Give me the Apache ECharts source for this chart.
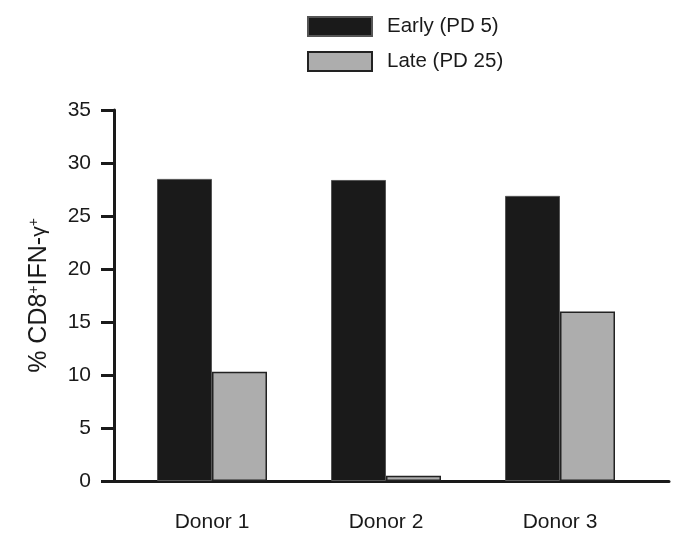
<!DOCTYPE html>
<html>
<head>
<meta charset="utf-8">
<script src="https://cdn.jsdelivr.net/npm/echarts@6/dist/echarts.min.js"></script>
<style>html,body{margin:0;padding:0;background:#fff}#c{width:685px;height:548px}</style>
</head>
<body>
<div id="c"></div>
<script>
var categories = ['Donor 1', 'Donor 2', 'Donor 3'];
var earlyValues = [28.5, 28.4, 26.9];
var lateValues = [10.3, 0.5, 16.0];
var seriesNames = ['Early (PD 5)', 'Late (PD 25)'];
var yTicks = [0, 5, 10, 15, 20, 25, 30, 35];

var FONT = 'Liberation Sans, Arial, Helvetica, sans-serif';
var INK = '#1a1a1a';
var chart = echarts.init(document.getElementById('c'), null, {renderer: 'canvas'});
chart.setOption({
  animation: false,
  backgroundColor: '#ffffff',
  textStyle: {fontFamily: FONT},
  legend: {
    data: seriesNames,
    orient: 'vertical',
    left: 307, top: 16,
    padding: 0,
    itemWidth: 64, itemHeight: 19, itemGap: 14,
    icon: 'rect',
    textStyle: {fontSize: 20.5, color: INK, fontFamily: FONT, padding: [0, 0, 0, 10]}
  },
  grid: [
    {left: 125, width: 522, top: 110, bottom: 67},
    {left: 114, right: 16, top: 110, bottom: 67}
  ],
  xAxis: [
    {
      type: 'category', gridIndex: 0, data: categories,
      axisLine: {show: false}, axisTick: {show: false},
      axisLabel: {fontSize: 21, color: INK, margin: 31, fontFamily: FONT}
    },
    {
      type: 'value', gridIndex: 1, min: 0, max: 1,
      axisLine: {show: true, lineStyle: {color: INK, width: 3}},
      axisTick: {show: false}, axisLabel: {show: false}, splitLine: {show: false}
    }
  ],
  yAxis: [
    {
      type: 'value', gridIndex: 0, min: yTicks[0], max: yTicks[yTicks.length - 1], interval: 5,
      show: false
    },
    {
      type: 'value', gridIndex: 1, min: yTicks[0], max: yTicks[yTicks.length - 1], interval: 5,
      name: '{t|% CD8}{s|+}{t|IFN-}{g|γ}{s|+}',
      nameLocation: 'middle', nameRotate: 90, nameGap: 62,
      nameTextStyle: {
        rich: {
          t: {fontSize: 25, color: INK, fontFamily: FONT},
          g: {fontSize: 21, color: INK, fontFamily: FONT},
          s: {fontSize: 14, color: INK, fontFamily: FONT, verticalAlign: 'top', padding: [0, 0, 9, 0]}
        }
      },
      axisLine: {show: true, lineStyle: {color: INK, width: 3}},
      axisTick: {show: true, length: 13, lineStyle: {color: INK, width: 3}},
      axisLabel: {fontSize: 21, color: INK, margin: 23, fontFamily: FONT},
      splitLine: {show: false}
    }
  ],
  series: [
    {
      name: seriesNames[0], type: 'bar', xAxisIndex: 0, yAxisIndex: 0,
      data: earlyValues, barWidth: 55, barGap: '0%',
      itemStyle: {color: INK, borderColor: '#555', borderWidth: 1}
    },
    {
      name: seriesNames[1], type: 'bar', xAxisIndex: 0, yAxisIndex: 0,
      data: lateValues, barWidth: 55, barGap: '0%',
      itemStyle: {color: '#adadad', borderColor: '#222', borderWidth: 1.5}
    }
  ]
});
</script>
</body>
</html>
